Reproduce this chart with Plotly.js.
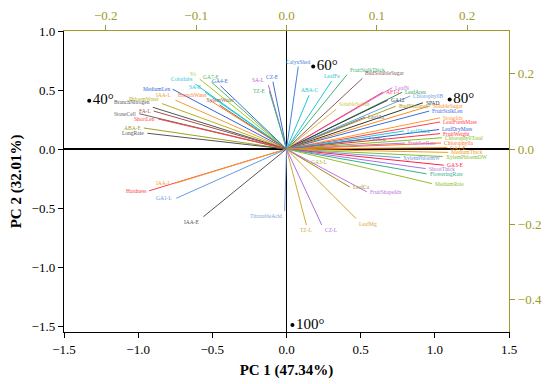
<!DOCTYPE html>
<html><head><meta charset="utf-8">
<script src="https://cdn.plot.ly/plotly-3.0.1.min.js"></script>
<style>body{margin:0;background:#fff}#c{width:550px;height:384px}</style>
</head><body><div id="c"></div>
<script>
// Variable loadings (read on the top / right axes)
const varNames = [
 'MediumLen','Colorlabs','Vc','GA7-E','GA4-E','SA-E','SA-L','CZ-E','TZ-E','PhloemWater','IAA-L','BranchWater','XylemWater','BranchNitrogen','FA-L','StoneCell','ShortLen','ABA-E','LongRate',
 'CalyxShed','ABA-C','LeafFe','FruitStalkThick','BudSolubleSugar','LeafN','AFT-L','LeafArea','ChlorophyllB','GA12','SolubleSolids','BudNitrogen','SPAD','SolubleSugar','FruitStalkLen','LeafZn','StoneIdx','LeafFreshMass','LeafDryMass','FruitWeight','LeafThick','ChlorophyllTotal','FruitSetRate','Chlorophylla','LeafCu','GA1-E','MediumThick','XylemPhloemDW','XylemPhloemW','GA3-E','ShootThick','FloweringRate','MediumRate',
 'GA3-L','LeafCa','FruitShapeIdx','LeafMg','TZ-L','CZ-L','TitratableAcid','Hardness','IAA-L ','GA1-L','IAA-E'
];
const loadX = [
 -0.126,-0.101,-0.096,-0.083,-0.073,-0.090,-0.020,-0.015,-0.019,-0.138,-0.123,-0.085,-0.074,-0.148,-0.147,-0.163,-0.142,-0.158,-0.154,
 0.013,0.025,0.050,0.067,0.084,0.117,0.107,0.128,0.137,0.112,0.055,0.121,0.151,0.159,0.158,0.087,0.170,0.170,0.169,0.170,0.130,0.172,0.131,0.171,0.088,0.178,0.179,0.173,0.126,0.174,0.154,0.155,0.161,
 0.024,0.070,0.089,0.077,0.022,0.039,-0.002,-0.152,-0.123,-0.122,-0.092
];
const loadY = [
 0.159,0.173,0.186,0.178,0.168,0.151,0.170,0.179,0.154,0.121,0.130,0.130,0.117,0.111,0.101,0.094,0.080,0.056,0.042,
 0.219,0.143,0.181,0.198,0.188,0.163,0.152,0.151,0.141,0.130,0.106,0.114,0.123,0.115,0.101,0.085,0.083,0.072,0.052,0.041,0.048,0.030,0.016,0.016,0.026,0.004,-0.009,-0.020,-0.023,-0.043,-0.052,-0.066,-0.092,
 -0.035,-0.101,-0.114,-0.185,-0.202,-0.202,-0.165,-0.111,-0.091,-0.131,-0.180
];
const varColors = [
 '#3366dd','#22c4d4','#a8c81e','#5cb85c','#3a6fd8','#1ec8d8','#b05fd6','#3a6fd8','#3cb371','#b8b020','#f0a030','#ff7f2a','#8c6d5a','#555555','#a05050','#666666','#ff4040','#a0a020','#555555',
 '#4a7fd8','#22c4d4','#22c4d4','#3cb371','#8b5a5a','#c070e0','#ff4060','#2e9e5e','#6aa0e0','#3a3a3a','#d4c040','#b0a020','#333333','#ff8c1a','#3a70e0','#777777','#ff9a30','#ff4050','#3060d0','#ff3040','#20c8d8','#80c020','#c070e0','#ff7020','#777777','#ff8c1a','#f0a020','#80c030','#6a9ae0','#ff2040','#b070e0','#30b090','#90c030',
 '#b0b030','#a09020','#c070e0','#d0a830','#d4a840','#b070e0','#7aa0d8','#ff4040','#f0a030','#6a9ae0','#555555'
];
// Sample scores (bottom / left axes)
const sampleLabels = ['40°','60°','80°','100°'];
const sampleX = [-1.33, 0.18, 1.10, 0.04];
const sampleY = [0.41, 0.70, 0.42, -1.49];

const xTicks = [-1.5,-1,-0.5,0,0.5,1,1.5];
const yTicks = [-1.5,-1,-0.5,0,0.5,1];
const x2Ticks = [-0.2,-0.1,0,0.1,0.2];
const y2Ticks = [-0.4,-0.2,0,0.2];

// label anchor style overrides [xanchor, yanchor]
const labelAnchor = {
  'SA-L':['right','bottom'], 'TZ-E':['right','middle'], 'GA7-E':['center','bottom'], 'GA4-E':['center','bottom'],
  'ABA-C':['center','bottom'], 'LeafFe':['center','bottom'], 'TitratableAcid':['right','top'], 'CZ-L':['left','top'],
  'BranchNitrogen':['right','bottom'], 'PhloemWater':['right','bottom'], 'IAA-L':['right','bottom'], 'XylemWater':['center','bottom']
};

const olive = '#9c9a28';
const font = 'Liberation Serif, Times New Roman, serif';
const traces = [];
const annotations = [];
const kx = 903, ky = 376; // px per unit on x2 / y2, used only to choose label anchors
varNames.forEach((n,i)=>{
  traces.push({x:[0,loadX[i]], y:[0,loadY[i]], xaxis:'x2', yaxis:'y2', mode:'lines',
    line:{color:varColors[i], width:1}, hoverinfo:'skip', showlegend:false});
  const dx = loadX[i]*kx, dy = loadY[i]*ky;
  let xa, ya;
  if (Math.abs(dx) > 1.6*Math.abs(dy)) { xa = dx<0?'right':'left'; ya='middle'; }
  else {
    ya = dy>0?'bottom':'top';
    xa = Math.abs(dx) < 0.5*Math.abs(dy) ? 'center' : (dx<0?'right':'left');
  }
  const key = n.trim();
  if (labelAnchor[n]) { xa = labelAnchor[n][0]; ya = labelAnchor[n][1]; }
  annotations.push({x:loadX[i], y:loadY[i], xref:'x2', yref:'y2', text:key, showarrow:false,
    xanchor:xa, yanchor:ya, font:{family:font, size:5.5, color:varColors[i]},
    xshift: xa==='left'?1:(xa==='right'?-1:0)});
});
traces.push({x:sampleX, y:sampleY, mode:'markers+text', marker:{color:'black', size:4},
  text:sampleLabels, textposition:'middle right', textfont:{family:font, size:15, color:'black'},
  hoverinfo:'skip', showlegend:false});

const layout = {
  width:550, height:384, margin:{l:64, r:41, t:31, b:52},
  paper_bgcolor:'white', plot_bgcolor:'white', showlegend:false,
  font:{family:font, size:13, color:'black'},
  xaxis:{range:[-1.5,1.5], tickvals:xTicks, tickformat:'.1f', ticks:'outside', ticklen:5, tickcolor:'black',
    showline:true, linecolor:'black', linewidth:1.2, zeroline:true, zerolinecolor:'black', zerolinewidth:1.5,
    showgrid:false, tickfont:{size:13}, title:{text:'<b>PC 1 (47.34%)</b>', font:{size:15}, standoff:8}},
  yaxis:{range:[-1.55,1.0], tickvals:yTicks, tickformat:'.1f', ticks:'outside', ticklen:5, tickcolor:'black',
    showline:true, linecolor:'black', linewidth:1.2, zeroline:true, zerolinecolor:'black', zerolinewidth:1.5,
    showgrid:false, tickfont:{size:13}, title:{text:'<b>PC 2 (32.01%)</b>', font:{size:15}, standoff:6}},
  xaxis2:{overlaying:'x', side:'top', anchor:'y', range:[-0.2463,0.2463], tickvals:x2Ticks, tickformat:'.1f',
    ticks:'outside', ticklen:5, tickcolor:olive, color:olive, showline:true, linecolor:olive, linewidth:1.2,
    zeroline:false, showgrid:false, tickfont:{size:13, color:olive}},
  yaxis2:{overlaying:'y', side:'right', anchor:'x', range:[-0.4867,0.314], tickvals:y2Ticks, tickformat:'.1f',
    ticks:'outside', ticklen:5, tickcolor:olive, color:olive, showline:true, linecolor:olive, linewidth:1.2,
    zeroline:false, showgrid:false, tickfont:{size:13, color:olive}},
  annotations:annotations
};
Plotly.newPlot('c', traces, layout, {staticPlot:true, displayModeBar:false});
</script>
</body></html>
